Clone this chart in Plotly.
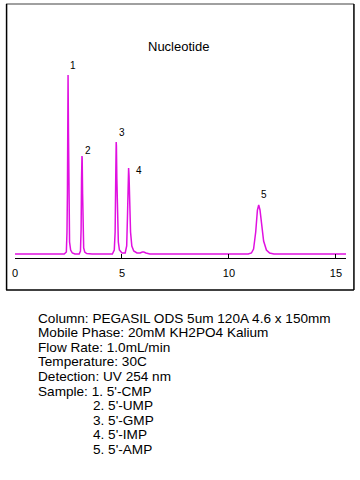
import plotly.graph_objects as go

# ---- data ----
time_min = [0.00, 2.30, 2.40, 2.43, 2.45, 2.47, 2.48, 2.50, 2.52, 2.55, 2.60, 2.68, 2.80,
            3.00, 3.06, 3.09, 3.11, 3.13, 3.14, 3.16, 3.18, 3.21, 3.26, 3.35, 3.60,
            4.55, 4.64, 4.68, 4.71, 4.73, 4.74, 4.76, 4.79, 4.83, 4.88, 4.95, 5.00,
            5.15, 5.22, 5.26, 5.29, 5.31, 5.33, 5.36, 5.40, 5.46, 5.55, 5.70,
            5.85, 5.95, 6.02, 6.12, 6.30,
            10.90, 11.05, 11.15, 11.25, 11.33, 11.39, 11.45, 11.52, 11.62, 11.75, 11.90, 12.10,
            15.47]
signal = [0, 0, 2, 22, 60, 150, 179, 120, 45, 12, 4, 1, 0,
          0, 3, 25, 75, 98, 96, 60, 20, 6, 2, 0.5, 0,
          0, 4, 22, 80, 112, 108, 75, 35, 12, 4, 1.5, 1,
          1, 8, 40, 80, 86, 78, 50, 22, 8, 3, 1,
          1, 2, 2, 1, 0,
          0, 1, 5, 22, 44, 49, 44, 30, 13, 4, 1, 0,
          0]

peak_labels = ["1", "2", "3", "4", "5"]
peak_times = [2.48, 3.14, 4.74, 5.31, 11.39]
peak_heights = [179, 98, 112, 86, 49]

x_ticks = [0, 5, 10, 15]
title_text = "Nucleotide"
conditions = [
    "Column: PEGASIL ODS 5um 120A 4.6 x 150mm",
    "Mobile Phase: 20mM KH2PO4 Kalium",
    "Flow Rate: 1.0mL/min",
    "Temperature: 30C",
    "Detection: UV 254 nm",
    "Sample: 1. 5'-CMP",
]
sample_rest = ["2. 5'-UMP", "3. 5'-GMP", "4. 5'-IMP", "5. 5'-AMP"]

# ---- layout geometry ----
W, H = 360, 480
L, R, T, B = 12, 14, 30, 222
PW, PH = W - L - R, H - T - B
FONT = "Arial, Liberation Sans, sans-serif"
COLOR = "#e010e0"


def px(x):
    return (x - L) / PW


def py(y):
    return (H - B - y) / PH


fig = go.Figure()
fig.add_trace(go.Scatter(x=time_min, y=signal, mode="lines",
                         line=dict(color=COLOR, width=1.5), hoverinfo="skip",
                         showlegend=False))

annotations = []
offsets = [(5, 10), (6, 6), (6, 10), (10, -2), (5, 11)]
for lab, t, h, (dx, dy) in zip(peak_labels, peak_times, peak_heights, offsets):
    annotations.append(dict(x=t, y=h, xref="x", yref="y", text=lab, showarrow=False,
                            xanchor="center", yanchor="middle",
                            xshift=dx, yshift=dy, font=dict(family=FONT, size=10, color="black")))

annotations.append(dict(x=px(177), y=py(46), xref="paper", yref="paper", text=title_text,
                        showarrow=False, xanchor="center", yanchor="middle",
                        font=dict(family=FONT, size=13, color="black")))

line_h = 14.6
y0 = 318
TXT = 13.6
for i, txt in enumerate(conditions):
    annotations.append(dict(x=px(33.5), y=py(y0 + i * line_h), xref="paper", yref="paper",
                            text=txt, showarrow=False, xanchor="left", yanchor="middle",
                            font=dict(family=FONT, size=TXT, color="black")))
for j, txt in enumerate(sample_rest):
    annotations.append(dict(x=px(88.5), y=py(y0 + (len(conditions) + j) * line_h),
                            xref="paper", yref="paper", text=txt, showarrow=False,
                            xanchor="left", yanchor="middle",
                            font=dict(family=FONT, size=TXT, color="black")))

shapes = [
    dict(type="line", xref="paper", yref="paper", x0=px(3), x1=px(354), y0=py(4), y1=py(4),
         line=dict(color="#808080", width=1.5)),
    dict(type="line", xref="paper", yref="paper", x0=px(3.5), x1=px(3.5), y0=py(4), y1=py(290),
         line=dict(color="black", width=1.5)),
    dict(type="line", xref="paper", yref="paper", x0=px(354), x1=px(354), y0=py(4), y1=py(290),
         line=dict(color="black", width=1.5)),
    dict(type="line", xref="paper", yref="paper", x0=px(3), x1=px(354), y0=py(290), y1=py(290),
         line=dict(color="black", width=1.5)),
]

fig.update_layout(
    width=W, height=H, margin=dict(l=L, r=R, t=T, b=B),
    paper_bgcolor="white", plot_bgcolor="white",
    annotations=annotations, shapes=shapes,
    xaxis=dict(range=[0, 15.47], showline=True, linecolor="black", linewidth=1,
               ticks="inside", ticklen=4, tickcolor="black", tickvals=x_ticks,
               tickfont=dict(family=FONT, size=11, color="black"),
               showgrid=False, zeroline=False, ticklabelstandoff=5),
    yaxis=dict(range=[-4, 224], visible=False),
)
fig.write_html("out.html", config={"displayModeBar": False},
               post_script="document.body.style.margin='0';document.body.style.overflow='hidden';")
